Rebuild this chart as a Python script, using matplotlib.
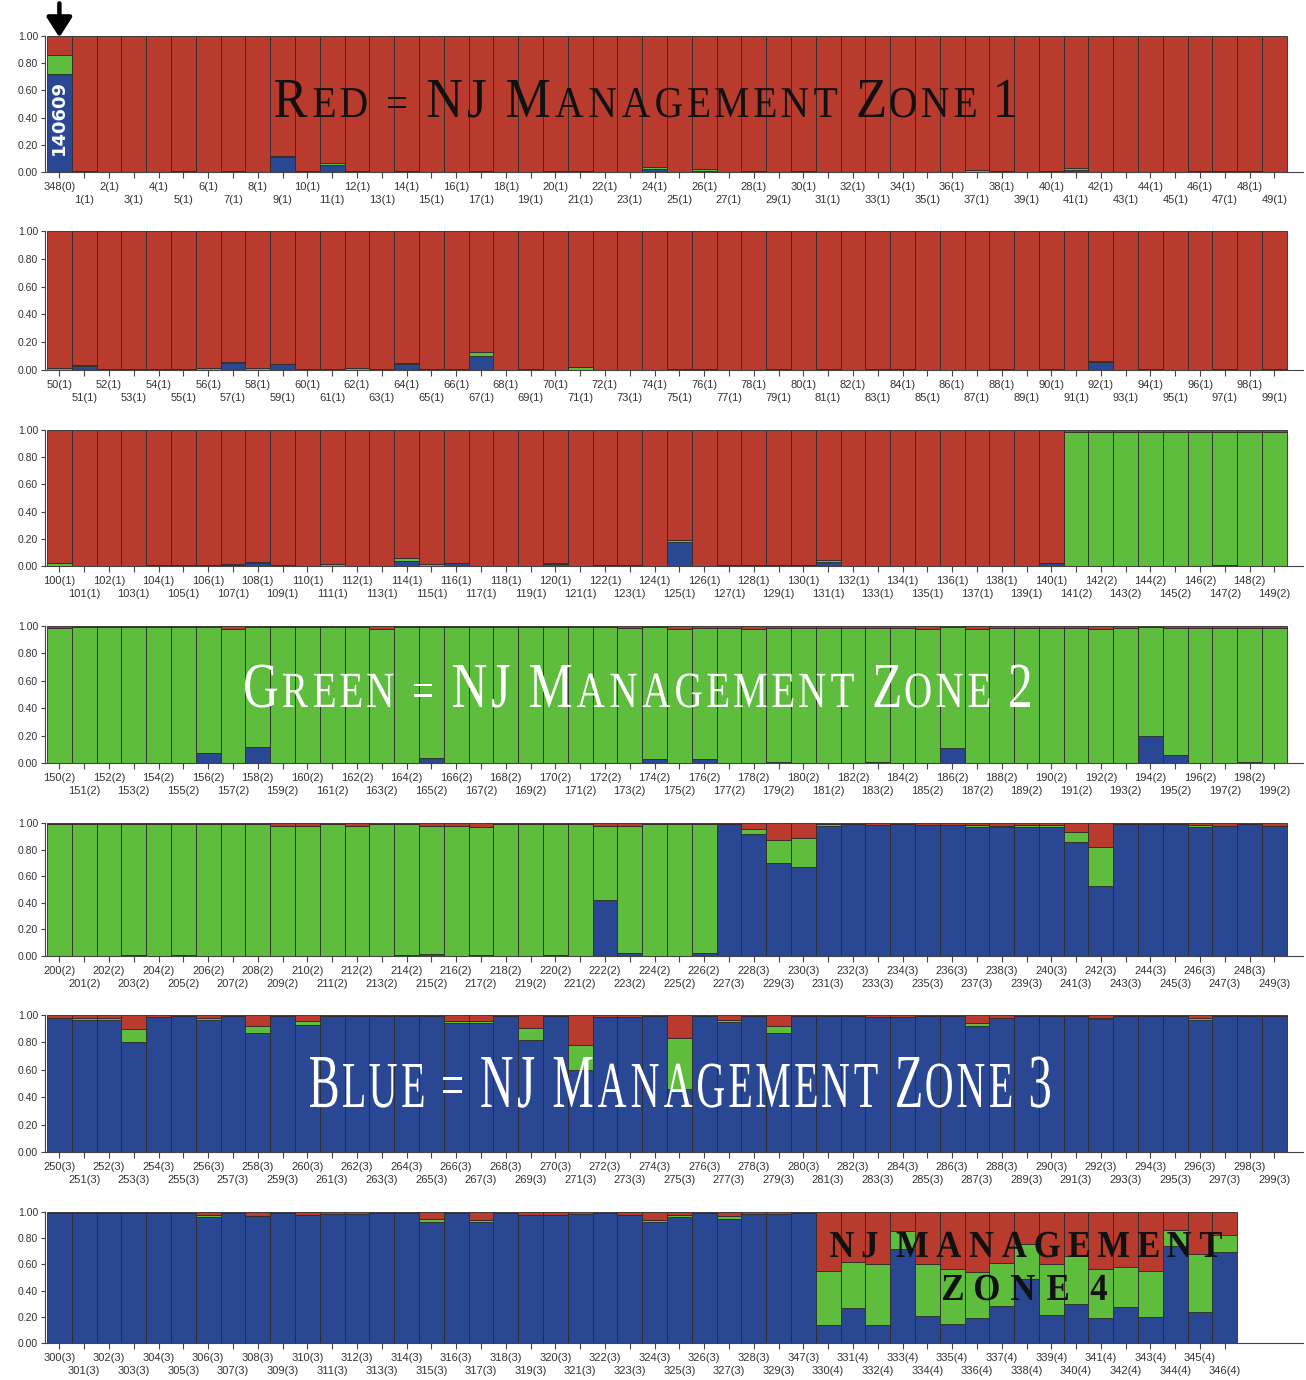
import numpy as np
import matplotlib
matplotlib.use("Agg")
import matplotlib.pyplot as plt
from matplotlib.textpath import TextPath
from matplotlib.patches import PathPatch
from matplotlib.font_manager import FontProperties
from matplotlib.transforms import Affine2D, IdentityTransform

# ---- data: membership proportions per sample (blue / green / red clusters) ----
labels1 = ("348(0) 1(1) 2(1) 3(1) 4(1) 5(1) 6(1) 7(1) 8(1) 9(1) 10(1) 11(1) 12(1) 13(1) 14(1) 15(1) 16(1) "
           "17(1) 18(1) 19(1) 20(1) 21(1) 22(1) 23(1) 24(1) 25(1) 26(1) 27(1) 28(1) 29(1) 30(1) 31(1) 32(1) "
           "33(1) 34(1) 35(1) 36(1) 37(1) 38(1) 39(1) 40(1) 41(1) 42(1) 43(1) 44(1) 45(1) 46(1) 47(1) 48(1) 49(1)").split()
blue1 = [0.72, 0, 0, 0, 0, 0, 0, 0, 0, 0.11,
         0, 0.05, 0, 0, 0, 0, 0, 0, 0, 0,
         0, 0, 0, 0, 0.02, 0, 0.01, 0, 0, 0,
         0, 0, 0, 0, 0, 0, 0, 0, 0, 0,
         0, 0.015, 0, 0, 0, 0, 0, 0, 0, 0]
green1 = [0.14, 0.01, 0, 0, 0, 0.01, 0, 0.005, 0, 0.01,
          0.005, 0.015, 0.01, 0, 0.01, 0, 0, 0.005, 0, 0,
          0.01, 0.005, 0, 0, 0.015, 0, 0.01, 0, 0.005, 0,
          0.005, 0, 0, 0, 0, 0, 0, 0.015, 0.01, 0,
          0.005, 0.015, 0, 0, 0, 0, 0.005, 0.005, 0.005, 0]
red1 = [0.14, 0.99, 1.0, 1.0, 1.0, 0.99, 1.0, 0.995, 1.0, 0.88,
        0.995, 0.935, 0.99, 1.0, 0.99, 1.0, 1.0, 0.995, 1.0, 1.0,
        0.99, 0.995, 1.0, 1.0, 0.965, 1.0, 0.98, 1.0, 0.995, 1.0,
        0.995, 1.0, 1.0, 1.0, 1.0, 1.0, 1.0, 0.985, 0.99, 1.0,
        0.995, 0.97, 1.0, 1.0, 1.0, 1.0, 0.995, 0.995, 0.995, 1.0]

labels2 = ("50(1) 51(1) 52(1) 53(1) 54(1) 55(1) 56(1) 57(1) 58(1) 59(1) 60(1) 61(1) 62(1) 63(1) 64(1) 65(1) "
           "66(1) 67(1) 68(1) 69(1) 70(1) 71(1) 72(1) 73(1) 74(1) 75(1) 76(1) 77(1) 78(1) 79(1) 80(1) 81(1) "
           "82(1) 83(1) 84(1) 85(1) 86(1) 87(1) 88(1) 89(1) 90(1) 91(1) 92(1) 93(1) 94(1) 95(1) 96(1) 97(1) "
           "98(1) 99(1)").split()
blue2 = [0, 0.03, 0, 0.005, 0, 0, 0, 0.05, 0, 0.04,
         0.005, 0, 0, 0, 0.04, 0, 0, 0.10, 0, 0.01,
         0, 0, 0, 0, 0, 0, 0, 0, 0, 0,
         0, 0, 0, 0, 0, 0, 0, 0, 0, 0,
         0, 0, 0.06, 0, 0, 0, 0, 0, 0, 0]
green2 = [0.015, 0.005, 0.01, 0, 0.01, 0.005, 0.015, 0.01, 0.015, 0.005,
          0, 0.01, 0.015, 0.005, 0.01, 0.005, 0.005, 0.03, 0, 0,
          0, 0.02, 0, 0, 0, 0.005, 0.005, 0, 0, 0.005,
          0, 0.005, 0, 0.005, 0.01, 0, 0, 0, 0.005, 0,
          0.005, 0, 0.005, 0, 0.005, 0, 0, 0.005, 0, 0.01]
red2 = [0.985, 0.965, 0.99, 0.995, 0.99, 0.995, 0.985, 0.94, 0.985, 0.955,
        0.995, 0.99, 0.985, 0.995, 0.95, 0.995, 0.995, 0.87, 1.0, 0.99,
        1.0, 0.98, 1.0, 1.0, 1.0, 0.995, 0.995, 1.0, 1.0, 0.995,
        1.0, 0.995, 1.0, 0.995, 0.99, 1.0, 1.0, 1.0, 0.995, 1.0,
        0.995, 1.0, 0.935, 1.0, 0.995, 1.0, 1.0, 0.995, 1.0, 0.99]

labels3 = ("100(1) 101(1) 102(1) 103(1) 104(1) 105(1) 106(1) 107(1) 108(1) 109(1) 110(1) 111(1) 112(1) "
           "113(1) 114(1) 115(1) 116(1) 117(1) 118(1) 119(1) 120(1) 121(1) 122(1) 123(1) 124(1) 125(1) "
           "126(1) 127(1) 128(1) 129(1) 130(1) 131(1) 132(1) 133(1) 134(1) 135(1) 136(1) 137(1) 138(1) "
           "139(1) 140(1) 141(2) 142(2) 143(2) 144(2) 145(2) 146(2) 147(2) 148(2) 149(2)").split()
blue3 = [0, 0, 0, 0, 0.005, 0, 0, 0.01, 0.02, 0,
         0, 0, 0, 0, 0.035, 0, 0.02, 0, 0, 0,
         0.015, 0, 0.01, 0, 0, 0.18, 0, 0, 0.01, 0,
         0.01, 0.03, 0, 0, 0, 0, 0, 0, 0, 0,
         0.02, 0, 0, 0, 0, 0, 0, 0.01, 0, 0]
green3 = [0.02, 0, 0, 0, 0, 0.01, 0.01, 0.005, 0.01, 0.01,
          0, 0.015, 0, 0, 0.025, 0.015, 0.005, 0, 0, 0,
          0.005, 0, 0, 0.01, 0, 0.01, 0, 0.01, 0, 0.01,
          0, 0.015, 0, 0, 0, 0, 0, 0, 0, 0,
          0, 0.985, 0.985, 0.985, 0.985, 0.985, 0.985, 0.975, 0.985, 0.985]
red3 = [0.98, 1.0, 1.0, 1.0, 0.995, 0.99, 0.99, 0.985, 0.97, 0.99,
        1.0, 0.985, 1.0, 1.0, 0.94, 0.985, 0.975, 1.0, 1.0, 1.0,
        0.98, 1.0, 0.99, 0.99, 1.0, 0.81, 1.0, 0.99, 0.99, 0.99,
        0.99, 0.955, 1.0, 1.0, 1.0, 1.0, 1.0, 1.0, 1.0, 1.0,
        0.98, 0.015, 0.015, 0.015, 0.015, 0.015, 0.015, 0.015, 0.015, 0.015]

labels4 = ("150(2) 151(2) 152(2) 153(2) 154(2) 155(2) 156(2) 157(2) 158(2) 159(2) 160(2) 161(2) 162(2) "
           "163(2) 164(2) 165(2) 166(2) 167(2) 168(2) 169(2) 170(2) 171(2) 172(2) 173(2) 174(2) 175(2) "
           "176(2) 177(2) 178(2) 179(2) 180(2) 181(2) 182(2) 183(2) 184(2) 185(2) 186(2) 187(2) 188(2) "
           "189(2) 190(2) 191(2) 192(2) 193(2) 194(2) 195(2) 196(2) 197(2) 198(2) 199(2)").split()
blue4 = [0, 0, 0, 0, 0, 0, 0.07, 0, 0.12, 0,
         0, 0, 0, 0, 0, 0.04, 0, 0, 0, 0,
         0, 0, 0, 0, 0.03, 0, 0.03, 0, 0, 0.01,
         0, 0, 0, 0.01, 0, 0, 0.11, 0, 0, 0,
         0, 0, 0, 0, 0.20, 0.06, 0, 0, 0.01, 0]
green4 = [0.985, 0.99, 0.99, 0.99, 0.99, 0.99, 0.92, 0.98, 0.87, 0.99,
          0.99, 0.99, 0.99, 0.975, 0.99, 0.95, 0.99, 0.99, 0.99, 0.99,
          0.99, 0.99, 0.99, 0.985, 0.96, 0.98, 0.955, 0.985, 0.98, 0.975,
          0.985, 0.985, 0.985, 0.975, 0.985, 0.98, 0.88, 0.98, 0.985, 0.985,
          0.985, 0.985, 0.98, 0.985, 0.79, 0.925, 0.985, 0.985, 0.975, 0.985]
red4 = [0.015, 0.01, 0.01, 0.01, 0.01, 0.01, 0.01, 0.02, 0.01, 0.01,
        0.01, 0.01, 0.01, 0.025, 0.01, 0.01, 0.01, 0.01, 0.01, 0.01,
        0.01, 0.01, 0.01, 0.015, 0.01, 0.02, 0.015, 0.015, 0.02, 0.015,
        0.015, 0.015, 0.015, 0.015, 0.015, 0.02, 0.01, 0.02, 0.015, 0.015,
        0.015, 0.015, 0.02, 0.015, 0.01, 0.015, 0.015, 0.015, 0.015, 0.015]

labels5 = ("200(2) 201(2) 202(2) 203(2) 204(2) 205(2) 206(2) 207(2) 208(2) 209(2) 210(2) 211(2) 212(2) "
           "213(2) 214(2) 215(2) 216(2) 217(2) 218(2) 219(2) 220(2) 221(2) 222(2) 223(2) 224(2) 225(2) "
           "226(2) 227(3) 228(3) 229(3) 230(3) 231(3) 232(3) 233(3) 234(3) 235(3) 236(3) 237(3) 238(3) "
           "239(3) 240(3) 241(3) 242(3) 243(3) 244(3) 245(3) 246(3) 247(3) 248(3) 249(3)").split()
blue5 = [0, 0, 0, 0.005, 0, 0.005, 0, 0, 0, 0,
         0, 0, 0, 0, 0.005, 0.015, 0, 0.01, 0, 0,
         0.005, 0, 0.42, 0.02, 0, 0, 0.02, 0.99, 0.92, 0.70,
         0.67, 0.98, 0.99, 0.985, 0.99, 0.985, 0.985, 0.97, 0.97, 0.97,
         0.97, 0.86, 0.53, 0.99, 0.99, 0.99, 0.97, 0.98, 0.99, 0.98]
green5 = [0.99, 0.995, 0.99, 0.985, 0.99, 0.985, 0.99, 0.99, 0.99, 0.975,
          0.975, 0.99, 0.975, 0.99, 0.985, 0.965, 0.975, 0.96, 0.99, 0.99,
          0.985, 0.99, 0.56, 0.955, 0.99, 0.99, 0.97, 0, 0.035, 0.175,
          0.22, 0.01, 0, 0, 0, 0, 0, 0.015, 0.01, 0.015,
          0.015, 0.07, 0.29, 0, 0, 0, 0.015, 0, 0, 0]
red5 = [0.01, 0.005, 0.01, 0.01, 0.01, 0.01, 0.01, 0.01, 0.01, 0.025,
        0.025, 0.01, 0.025, 0.01, 0.01, 0.02, 0.025, 0.03, 0.01, 0.01,
        0.01, 0.01, 0.02, 0.025, 0.01, 0.01, 0.01, 0.01, 0.045, 0.125,
        0.11, 0.01, 0.01, 0.015, 0.01, 0.015, 0.015, 0.015, 0.02, 0.015,
        0.015, 0.07, 0.18, 0.01, 0.01, 0.01, 0.015, 0.02, 0.01, 0.02]

labels6 = ("250(3) 251(3) 252(3) 253(3) 254(3) 255(3) 256(3) 257(3) 258(3) 259(3) 260(3) 261(3) 262(3) "
           "263(3) 264(3) 265(3) 266(3) 267(3) 268(3) 269(3) 270(3) 271(3) 272(3) 273(3) 274(3) 275(3) "
           "276(3) 277(3) 278(3) 279(3) 280(3) 281(3) 282(3) 283(3) 284(3) 285(3) 286(3) 287(3) 288(3) "
           "289(3) 290(3) 291(3) 292(3) 293(3) 294(3) 295(3) 296(3) 297(3) 298(3) 299(3)").split()
blue6 = [0.98, 0.965, 0.96, 0.80, 0.985, 0.99, 0.96, 0.99, 0.866, 0.99,
         0.927, 0.99, 0.99, 0.99, 0.99, 0.99, 0.94, 0.94, 0.99, 0.817,
         0.99, 0.60, 0.985, 0.985, 0.99, 0.46, 0.99, 0.947, 0.99, 0.867,
         0.99, 0.99, 0.99, 0.985, 0.985, 0.99, 0.99, 0.917, 0.98, 0.99,
         0.99, 0.99, 0.97, 0.99, 0.99, 0.99, 0.96, 0.99, 0.99, 0.99]
green6 = [0, 0.015, 0.02, 0.10, 0, 0, 0.015, 0, 0.054, 0,
          0.03, 0, 0, 0, 0, 0, 0.015, 0.015, 0, 0.085,
          0, 0.18, 0, 0, 0, 0.37, 0, 0.017, 0, 0.056,
          0, 0, 0, 0, 0, 0, 0, 0.024, 0, 0,
          0, 0, 0.01, 0, 0, 0, 0.015, 0, 0, 0]
red6 = [0.02, 0.02, 0.02, 0.10, 0.015, 0.01, 0.025, 0.01, 0.08, 0.01,
        0.043, 0.01, 0.01, 0.01, 0.01, 0.01, 0.045, 0.045, 0.01, 0.098,
        0.01, 0.22, 0.015, 0.015, 0.01, 0.17, 0.01, 0.036, 0.01, 0.077,
        0.01, 0.01, 0.01, 0.015, 0.015, 0.01, 0.01, 0.059, 0.02, 0.01,
        0.01, 0.01, 0.02, 0.01, 0.01, 0.01, 0.025, 0.01, 0.01, 0.01]

labels7 = ("300(3) 301(3) 302(3) 303(3) 304(3) 305(3) 306(3) 307(3) 308(3) 309(3) 310(3) 311(3) 312(3) "
           "313(3) 314(3) 315(3) 316(3) 317(3) 318(3) 319(3) 320(3) 321(3) 322(3) 323(3) 324(3) 325(3) "
           "326(3) 327(3) 328(3) 329(3) 347(3) 330(4) 331(4) 332(4) 333(4) 334(4) 335(4) 336(4) 337(4) "
           "338(4) 339(4) 340(4) 341(4) 342(4) 343(4) 344(4) 345(4) 346(4)").split()
blue7 = [0.99, 0.99, 0.99, 0.99, 0.99, 0.99, 0.96, 0.99, 0.97, 0.99,
         0.975, 0.985, 0.985, 0.99, 0.99, 0.92, 0.99, 0.92, 0.99, 0.98,
         0.98, 0.985, 0.99, 0.98, 0.92, 0.96, 0.99, 0.95, 0.985, 0.985,
         0.99, 0.134, 0.266, 0.134, 0.716, 0.205, 0.147, 0.192, 0.286, 0.489,
         0.21, 0.299, 0.192, 0.273, 0.197, 0.742, 0.24, 0.691]
green7 = [0, 0, 0, 0, 0, 0, 0.015, 0, 0, 0,
          0, 0, 0, 0, 0, 0.03, 0, 0.02, 0, 0,
          0, 0, 0, 0, 0.02, 0.02, 0, 0.02, 0, 0,
          0, 0.418, 0.349, 0.468, 0.139, 0.397, 0.418, 0.352, 0.322, 0.266,
          0.392, 0.367, 0.372, 0.304, 0.354, 0.119, 0.443, 0.132]
red7 = [0.01, 0.01, 0.01, 0.01, 0.01, 0.01, 0.025, 0.01, 0.03, 0.01,
        0.025, 0.015, 0.015, 0.01, 0.01, 0.05, 0.01, 0.06, 0.01, 0.02,
        0.02, 0.015, 0.01, 0.02, 0.06, 0.02, 0.01, 0.03, 0.015, 0.015,
        0.01, 0.448, 0.385, 0.398, 0.145, 0.398, 0.435, 0.456, 0.392, 0.245,
        0.398, 0.334, 0.436, 0.423, 0.449, 0.139, 0.317, 0.177]

BLUE = "#2a4793"
GREEN = "#5fbd3d"
RED = "#b83b2d"
EDGE = "#2b2b2b"

W, H = 1306, 1380
fig = plt.figure(figsize=(W / 100, H / 100), dpi=100)

rows = [(labels1, blue1, green1, red1), (labels2, blue2, green2, red2),
        (labels3, blue3, green3, red3), (labels4, blue4, green4, red4),
        (labels5, blue5, green5, red5), (labels6, blue6, green6, red6),
        (labels7, blue7, green7, red7)]
# pixel rows of the 1.00 and 0.00 lines for each panel
row_px = [(36, 172), (231, 370), (430, 566), (626, 763), (823, 956), (1015, 1152), (1212, 1343)]

axes = []
for (labs, b, g, r), (top, bot) in zip(rows, row_px):
    ax = fig.add_axes([45 / W, 1 - bot / H, 1258 / W, (bot - top) / H])
    x = np.arange(len(labs))
    b = np.array(b); g = np.array(g); r = np.array(r)
    ax.bar(x, b, width=1.0, color=BLUE, edgecolor=EDGE, linewidth=0.6)
    ax.bar(x, g, width=1.0, bottom=b, color=GREEN, edgecolor=EDGE, linewidth=0.6)
    ax.bar(x, r, width=1.0, bottom=b + g, color=RED, edgecolor=EDGE, linewidth=0.6)
    ax.set_xlim(-0.58, 50.15)
    ax.set_ylim(0, 1.0)
    # even samples on the first label line, odd samples on the second
    ax.set_xticks(x[::2])
    ax.set_xticklabels(labs[::2], fontsize=8, family="Liberation Sans", color="#333333")
    ax.set_xticks(x[1::2], minor=True)
    ax.set_xticklabels(labs[1::2], minor=True, fontsize=8, family="Liberation Sans", color="#333333")
    ax.set_yticks([0, 0.2, 0.4, 0.6, 0.8, 1.0])
    ax.set_yticklabels(["0.00", "0.20", "0.40", "0.60", "0.80", "1.00"],
                       fontsize=7.5, family="Liberation Sans", color="#333333")
    ax.tick_params(axis="x", which="major", length=4, width=0.8, color="#444444", pad=3.5)
    ax.tick_params(axis="x", which="minor", length=4, width=0.8, color="#444444", pad=12.5)
    ax.tick_params(axis="y", length=3, width=0.8, color="#444444", pad=2)
    for s in ["top", "right"]:
        ax.spines[s].set_visible(False)
    for s in ["left", "bottom"]:
        ax.spines[s].set_color("#444444")
        ax.spines[s].set_linewidth(0.8)
    axes.append(ax)

# sample id inside first bar and the arrow above it
axes[0].text(0, 0.40, "140609", rotation=90, color="white", fontsize=13, weight="bold",
             ha="center", va="center", family="DejaVu Sans")
axes[0].annotate("", xy=(0, 0.99), xytext=(0, 1.24), xycoords="data",
                 arrowprops=dict(arrowstyle="-|>,head_length=0.55,head_width=0.35", lw=3.2,
                                 color="black", mutation_scale=22, shrinkA=0, shrinkB=0),
                 annotation_clip=False)


def caps_text(text, x0, x1, baseline, cap_h, color, ratio=0.8, weight="normal", track=0.12):
    # small caps: upper case letters/digits big, lower case drawn as smaller capitals
    prop = FontProperties(family="Liberation Serif", weight=weight)
    cap1 = TextPath((0, 0), "H", size=1, prop=prop).get_extents().height
    paths = []
    pos = 0.0
    for ch in text:
        if ch == " ":
            pos += 0.3
            continue
        s = ratio if (ch.islower() or ch == "=") else 1.0
        tp = TextPath((0, 0), ch.upper(), size=s, prop=prop)
        ext = tp.get_extents()
        tp = tp.transformed(Affine2D().translate(pos - ext.x0, 0))
        paths.append(tp)
        pos += ext.width + track
    width = pos - track
    sx = (x1 - x0) / width
    sy = cap_h / cap1
    tr = Affine2D().scale(sx, sy).translate(x0, H - baseline)
    for p in paths:
        fig.add_artist(PathPatch(p.transformed(tr), transform=IdentityTransform(),
                                 facecolor=color, edgecolor="none"))


caps_text("Red = NJ Management Zone 1", 275, 1015, 117, 37, "#111111", ratio=0.78)
caps_text("Green = NJ Management Zone 2", 245, 1030, 707, 42, "white", ratio=0.79)
caps_text("Blue = NJ Management Zone 3", 310, 1050, 1107, 50, "white", ratio=0.86)
caps_text("NJ MANAGEMENT", 830, 1222, 1257, 25, "#111111", ratio=1.0, weight="bold", track=0.25)
caps_text("ZONE 4", 943, 1107, 1300, 25, "#111111", ratio=1.0, weight="bold", track=0.35)

fig.savefig("out.png", dpi=100)
